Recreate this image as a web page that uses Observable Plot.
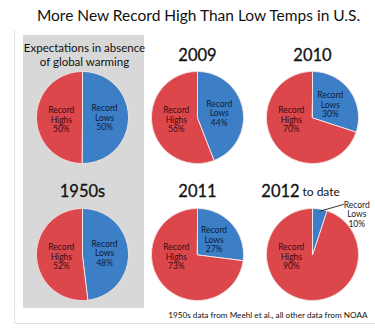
<!DOCTYPE html>
<html>
<head>
<meta charset="utf-8">
<script src="https://cdn.jsdelivr.net/npm/d3@7"></script>
<script src="https://cdn.jsdelivr.net/npm/@observablehq/plot@0.6"></script>
<style>
  html, body { margin: 0; padding: 0; background: #ffffff; }
  #chart { width: 375px; height: 333px; }
</style>
</head>
<body>
<div id="chart"></div>
<script>
// ---- Data ----
const chartTitle = "More New Record High Than Low Temps in U.S.";
const pieNames = ["Expectations", "2009", "2010", "1950s", "2011", "2012"];
const pieTitles = ["Expectations in absence\nof global warming", "2009", "2010", "1950s", "2011", "2012"];
const highsPct = [50, 56, 70, 52, 73, 90];        // labelled share of record highs
const lowsPct = [50, 44, 30, 48, 27, 10];         // labelled share of record lows
const lowsSliceShown = [50, 44, 30, 48, 27, 5];   // size of the blue slice as drawn
const subTitleSuffix = "to date";
const caption = "1950s data from Meehl et al., all other data from NOAA";

// ---- Layout ----
const W = 375, H = 333;
const colX = [82, 197, 312];
const rowY = [117, 254];
const R = 46;
const RED = "#dc474c", BLUE = "#3c7fc7";
const FONT = "Lato, 'Open Sans', sans-serif";

const pies = pieNames.map((name, i) => ({
  name,
  title: pieTitles[i],
  highs: highsPct[i],
  lows: lowsPct[i],
  lowsShown: lowsSliceShown[i],
  cx: colX[i % 3],
  cy: rowY[Math.floor(i / 3)]
}));

function wedge(p, a0, a1, kind) {
  const pts = [{key: p.name + kind, x: p.cx, y: p.cy}];
  const n = Math.max(2, Math.ceil((a1 - a0) / (Math.PI / 120)));
  for (let k = 0; k <= n; k++) {
    const a = a0 + (a1 - a0) * k / n;
    pts.push({key: p.name + kind, x: p.cx + R * Math.sin(a), y: p.cy - R * Math.cos(a)});
  }
  return pts;
}

const lowPts = [], highPts = [];
const lowLabels = [], highLabels = [], leaders = [];
for (const p of pies) {
  const a = p.lowsShown / 100 * 2 * Math.PI;
  lowPts.push(...wedge(p, 0, a, "-lows"));
  highPts.push(...wedge(p, a, 2 * Math.PI, "-highs"));
  highLabels.push({x: p.cx - R * 0.46, y: p.cy + 2, text: `Record\nHighs\n${p.highs}%`});
  const mid = a / 2;
  if (p.lowsShown >= 15) {
    lowLabels.push({x: p.cx + R * 0.48 * Math.sin(mid), y: p.cy - R * 0.48 * Math.cos(mid),
                    text: `Record\nLows\n${p.lows}%`, inside: true});
  } else {
    const sx = p.cx + R * 0.95 * Math.sin(mid), sy = p.cy - R * 0.95 * Math.cos(mid);
    const ex = p.cx + R * 0.68, ey = p.cy - R * 1.09;
    leaders.push({x1: sx, y1: sy, x2: ex, y2: ey});
    lowLabels.push({x: ex + 13, y: ey + 10, text: `Record\nLows\n${p.lows}%`, inside: false});
  }
}

// titles
const bigTitles = pies.filter(p => p.name !== "Expectations").map(p => ({
  x: p.name === "2012" ? p.cx - 32 : p.cx,
  y: p.cy - R - 16 + (p.cy > 200 ? -1 : 0),
  text: p.title
}));
const smallTitle = pies.filter(p => p.name === "Expectations").map(p => ({x: p.cx + 2, y: p.cy - R - 17, text: p.title}));
const suffix = pies.filter(p => p.name === "2012").map(p => ({x: p.cx - 10, y: p.cy - R - 16, text: subTitleSuffix}));

const chart = Plot.plot({
  width: W,
  height: H,
  margin: 0,
  x: {domain: [0, W], range: [0, W], axis: null},
  y: {domain: [0, H], range: [0, H], axis: null},
  style: {background: "#ffffff", fontFamily: FONT},
  marks: [
    // faint outer frame
    Plot.ruleX([14], {y1: 30, y2: 323, stroke: "#e2e2e2", strokeWidth: 1}),
    Plot.ruleY([323], {x1: 14, x2: W, stroke: "#e2e2e2", strokeWidth: 1}),
    // grey panel behind the reference pies
    Plot.rect([pies[0]], {x1: 23, x2: 144, y1: 35, y2: 308, fill: "#d8d8d8"}),
    // slices
    Plot.line(highPts, {x: "x", y: "y", z: "key", fill: RED, stroke: "#f4dcdc", strokeWidth: 1, curve: "linear-closed"}),
    Plot.line(lowPts, {x: "x", y: "y", z: "key", fill: BLUE, stroke: "#f4e6e6", strokeWidth: 1, curve: "linear-closed"}),
    // leader line
    Plot.link(leaders, {x1: "x1", y1: "y1", x2: "x2", y2: "y2", stroke: "#333333", strokeWidth: 1}),
    // slice labels
    Plot.text(highLabels, {x: "x", y: "y", text: "text", fontSize: 8.5, lineHeight: 1.12, fill: "#3a0c10", fontFamily: FONT}),
    Plot.text(lowLabels, {x: "x", y: "y", text: "text", fontSize: 8.5, lineHeight: 1.12, fill: d => d.inside ? "#0c1c3a" : "#222222", fontFamily: FONT}),
    // titles
    Plot.text([chartTitle], {x: () => 198, y: () => 16, text: d => d, fontSize: 15.5, fill: "#111111", fontFamily: FONT}),
    Plot.text(smallTitle, {x: "x", y: "y", text: "text", fontSize: 11.5, lineHeight: 1.25, fill: "#111111", fontFamily: FONT}),
    Plot.text(bigTitles, {x: "x", y: "y", text: "text", fontSize: 16.5, fill: "#111111", fontFamily: FONT, stroke: "#111111", strokeWidth: 0.3}),
    Plot.text(suffix, {x: "x", y: "y", text: "text", fontSize: 12, textAnchor: "start", fill: "#111111", fontFamily: FONT}),
    Plot.text([caption], {x: () => 367, y: () => 315, text: d => d, fontSize: 8.2, textAnchor: "end", fill: "#111111", fontFamily: FONT})
  ]
});
document.getElementById("chart").appendChild(chart);
</script>
</body>
</html>
